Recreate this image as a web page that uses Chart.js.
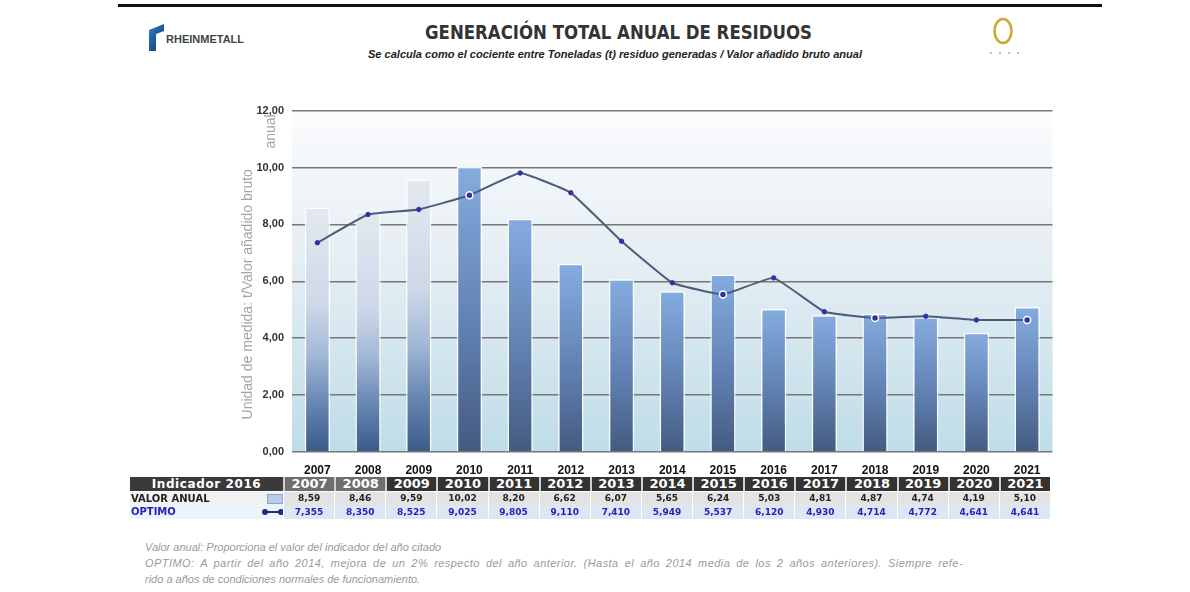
<!DOCTYPE html>
<html>
<head>
<meta charset="utf-8">
<title>Generación total anual de residuos</title>
<script src="https://cdn.jsdelivr.net/npm/chart.js@4/dist/chart.umd.min.js"></script>
<style>
  body { margin: 0; background: #fff; font-family: "Liberation Sans", Arial, sans-serif; }
  #page { position: relative; width: 1190px; height: 592px; overflow: hidden; }
  .abs { position: absolute; white-space: nowrap; transform-origin: left top; }
  #topline { left: 118px; top: 4px; width: 984px; height: 3px; background: #111; }
  #brand { left: 166px; top: 33px; font: bold 11px "Liberation Sans", Arial, sans-serif; color: #444; }
  #title { left: 425px; top: 21px; font: bold 20px "Liberation Sans Narrow", "DejaVu Sans Condensed", sans-serif; color: #333; line-height: 22px; }
  #subtitle { left: 368px; top: 49px; font: italic bold 10px "Liberation Sans", Arial, sans-serif; color: #222; }
  #chartBox { left: 225px; top: 96px; }
  #tbl { left: 130px; top: 477px; width: 920px; display: grid; grid-template-columns: 153px repeat(15, 1fr);
         font-family: "DejaVu Sans", sans-serif; }
  #tbl div { text-align: center; overflow: hidden; position: relative; }
  .hd { background: #333; color: #fff; font-weight: bold; font-size: 13px; height: 14px; line-height: 14px;
        border-left: 2px solid #d0d0d0; margin-bottom: 1px; }
  .hd.old { background: #6e6e6e; }
  .hd.lab { border-left: none; font-size: 12px; letter-spacing: 0.6px; background: #3a3a3a; }
  .r1, .r2 { font-size: 9px; font-weight: bold; border-left: 1px solid #fff; }
  .r1 { background: #e3e3e3; color: #222; height: 13px; line-height: 13px; }
  .r2 { background: #dde6f3; color: #2323b4; height: 14px; line-height: 14px; }
  .r1.lab, .r2.lab { text-align: left !important; font-size: 10px; border-left: none; padding-left: 1px; }
  .r1.lab { background: #f1f1f1; }
  .r2.lab { background: #eef2fa; }
  .swatch { position: absolute; left: 137px; top: 2px; width: 14px; height: 8px; background: #b9cdea; border: 1px solid #8fa5c8; }
  .notes { left: 145px; font: italic 11px "Liberation Sans", Arial, sans-serif; color: #9a9a9a; }
</style>
</head>
<body>
<div id="page">
  <div id="topline" class="abs"></div>

  <svg class="abs" style="left:146px;top:22px" width="20" height="30" viewBox="0 0 20 30">
    <defs>
      <linearGradient id="rg" x1="0" y1="0" x2="1" y2="1">
        <stop offset="0" stop-color="#2f7fc8"/><stop offset="1" stop-color="#0c3566"/>
      </linearGradient>
    </defs>
    <polygon points="3,8 18,2 18,9 10,12 10,29 3,29" fill="url(#rg)"/>
  </svg>
  <div id="brand" class="abs">RHEINMETALL</div>

  <div id="title" class="abs" data-w="387">GENERACIÓN TOTAL ANUAL DE RESIDUOS</div>
  <div id="subtitle" class="abs" data-w="494">Se calcula como el cociente entre Toneladas (t) residuo generadas / Valor añadido bruto anual</div>

  <svg class="abs" style="left:988px;top:16px" width="32" height="42" viewBox="0 0 32 42">
    <ellipse cx="15" cy="15" rx="8.5" ry="12" fill="none" stroke="#cda832" stroke-width="2.6"/>
    <circle cx="3" cy="37" r="1" fill="#aaa"/><circle cx="12" cy="37" r="1" fill="#aaa"/>
    <circle cx="21" cy="37" r="1" fill="#aaa"/><circle cx="30" cy="37" r="1" fill="#aaa"/>
  </svg>

  <div id="chartBox" class="abs"><canvas id="chart" width="833" height="385"></canvas></div>

  <div id="tbl" class="abs"></div>

  <div class="abs notes" style="top:541px">Valor anual: Proporciona el valor del indicador del año citado</div>
  <div class="abs notes" style="top:557px" data-ws="818">OPTIMO: A partir del año 2014, mejora de un 2% respecto del año anterior. (Hasta el año 2014 media de los 2 años anteriores). Siempre refe-</div>
  <div class="abs notes" style="top:573px">rido a años de condiciones normales de funcionamiento.</div>
</div>

<script>
// Data
const years = ['2007', '2008', '2009', '2010', '2011', '2012', '2013', '2014', '2015', '2016', '2017', '2018', '2019', '2020', '2021'];
const valorAnual = [8.59, 8.46, 9.59, 10.02, 8.20, 6.62, 6.07, 5.65, 6.24, 5.03, 4.81, 4.87, 4.74, 4.19, 5.10];
const optimo = [7.355, 8.350, 8.525, 9.025, 9.805, 9.110, 7.410, 5.949, 5.537, 6.120, 4.930, 4.714, 4.772, 4.641, 4.641];
const yTickLabels = ['0,00', '2,00', '4,00', '6,00', '8,00', '10,00', '12,00'];
const yTitle = ['Unidad de medida: t/Valor añadido bruto', 'anual'];
const rowLabels = ['VALOR ANUAL', 'OPTIMO'];
const headerLabel = 'Indicador 2016';

const comma = (v, d) => v.toFixed(d).replace('.', ',');

// Table under the chart
const tbl = document.getElementById('tbl');
function cell(cls, text) {
    const d = document.createElement('div');
    d.className = cls;
    d.textContent = text;
    tbl.appendChild(d);
    return d;
}
cell('hd lab', headerLabel);
years.forEach((y, i) => cell(i < 2 ? 'hd old' : 'hd', y));
const l1 = cell('r1 lab', rowLabels[0]);
const sw = document.createElement('span');
sw.className = 'swatch';
l1.appendChild(sw);
valorAnual.forEach(v => cell('r1', comma(v, 2)));
const l2 = cell('r2 lab', rowLabels[1]);
l2.insertAdjacentHTML('beforeend',
    '<svg style="position:absolute;left:131px;top:3px" width="24" height="8"><line x1="4" y1="4" x2="20" y2="4" stroke="#1c2d80" stroke-width="2"/><circle cx="4" cy="4" r="3" fill="#1c2d80"/><circle cx="20" cy="4" r="3" fill="#1c2d80"/></svg>');
optimo.forEach(v => cell('r2', comma(v, 3)));

// Stretch title lines to their width in the picture; the justified note line is spaced out
function fitText() {
    document.querySelectorAll('[data-w]').forEach(el => {
        el.style.transform = '';
        const w = el.getBoundingClientRect().width;
        if (w > 0) el.style.transform = 'scaleX(' + (+el.dataset.w / w) + ')';
    });
    document.querySelectorAll('[data-ws]').forEach(el => {
        el.style.wordSpacing = '0px';
        el.style.letterSpacing = '0px';
        const w = el.getBoundingClientRect().width;
        const txt = el.textContent;
        const gaps = txt.split(' ').length - 1;
        const extra = Math.max(0, +el.dataset.ws - w);
        if (w > 0 && gaps) {
            el.style.letterSpacing = (extra * 0.5 / txt.length) + 'px';
            el.style.wordSpacing = (extra * 0.5 / gaps) + 'px';
        }
    });
}
fitText();
if (document.fonts) document.fonts.ready.then(fitText);

// Plot area background (white at top to pale blue at bottom)
const plotBackground = {
    id: 'plotBackground',
    beforeDraw(chart) {
        const { ctx, chartArea: a } = chart;
        const g = ctx.createLinearGradient(0, a.top, 0, a.bottom);
        g.addColorStop(0, '#fbfcfd');
        g.addColorStop(0.5, '#e2ecf2');
        g.addColorStop(1, '#bedde8');
        ctx.save();
        ctx.fillStyle = g;
        ctx.fillRect(a.left, a.top, a.right - a.left, a.bottom - a.top);
        ctx.restore();
    }
};

// Rotated y axis title, second line sits near the top
const axisNote = {
    id: 'axisNote',
    afterDraw(chart) {
        const { ctx, chartArea: a } = chart;
        ctx.save();
        ctx.font = '14px "Liberation Sans", Arial, sans-serif';
        ctx.fillStyle = '#a3a3a3';
        ctx.textBaseline = 'middle';
        ctx.translate(23, (a.top + a.bottom) / 2 + 13);
        ctx.rotate(-Math.PI / 2);
        ctx.textAlign = 'center';
        ctx.fillText(yTitle[0], 0, 0);
        ctx.restore();
        ctx.save();
        ctx.font = '14px "Liberation Sans", Arial, sans-serif';
        ctx.fillStyle = '#a3a3a3';
        ctx.textBaseline = 'middle';
        ctx.translate(46, a.top + 38);
        ctx.rotate(-Math.PI / 2);
        ctx.textAlign = 'left';
        ctx.fillText(yTitle[1], 0, 0);
        ctx.restore();
    }
};

function barFill(c) {
    const chart = c.chart;
    if (!chart.chartArea || c.dataIndex === undefined) return '#6f8fc0';
    const y = chart.scales.y;
    const top = y.getPixelForValue(valorAnual[c.dataIndex]);
    const bottom = y.getPixelForValue(0);
    const g = chart.ctx.createLinearGradient(0, top, 0, bottom);
    if (c.dataIndex < 3) {
        g.addColorStop(0, '#e3e9f0');
        g.addColorStop(0.4, '#cdd8e8');
        g.addColorStop(0.6, '#a3b9d7');
        g.addColorStop(0.8, '#6886b2');
        g.addColorStop(1, '#3c5a88');
    } else {
        g.addColorStop(0, '#85acdf');
        g.addColorStop(0.5, '#6585b8');
        g.addColorStop(1, '#445b80');
    }
    return g;
}

const ringed = [3, 8, 11, 14];

new Chart(document.getElementById('chart'), {
    type: 'bar',
    data: {
        labels: years,
        datasets: [{
            type: 'line',
            label: rowLabels[1],
            data: optimo,
            order: 0,
            borderColor: '#4b5d78',
            borderWidth: 2,
            tension: 0.1,
            pointRadius: c => ringed.includes(c.dataIndex) ? 3.5 : 2.2,
            pointBackgroundColor: '#3030a8',
            pointBorderColor: c => ringed.includes(c.dataIndex) ? '#ffffff' : '#3030a8',
            pointBorderWidth: c => ringed.includes(c.dataIndex) ? 1.5 : 1
        }, {
            type: 'bar',
            label: rowLabels[0],
            data: valorAnual,
            order: 1,
            backgroundColor: barFill,
            borderColor: 'rgba(255,255,255,0.9)',
            borderWidth: 1.5,
            categoryPercentage: 1,
            barPercentage: 0.5
        }]
    },
    options: {
        responsive: false,
        animation: false,
        layout: { padding: { top: 6, right: 0, left: 0, bottom: 0 } },
        plugins: {
            legend: { display: false },
            tooltip: { enabled: false }
        },
        scales: {
            x: {
                grid: { display: false },
                border: { display: false },
                ticks: { font: { size: 12, weight: 'bold', family: '"Liberation Sans", Arial' }, color: '#111', padding: 3 },
                afterFit(s) { s.height = 29; }
            },
            y: {
                min: 0,
                max: 12,
                ticks: {
                    stepSize: 2,
                    callback: v => yTickLabels[v / 2],
                    font: { size: 11, weight: 'bold', family: '"Liberation Sans", Arial' },
                    color: '#333',
                    padding: 8
                },
                grid: { color: '#777', lineWidth: 1.5, drawTicks: false },
                border: { display: false },
                afterFit(s) { s.width = 67; }
            }
        }
    },
    plugins: [plotBackground, axisNote]
});
</script>
</body>
</html>
